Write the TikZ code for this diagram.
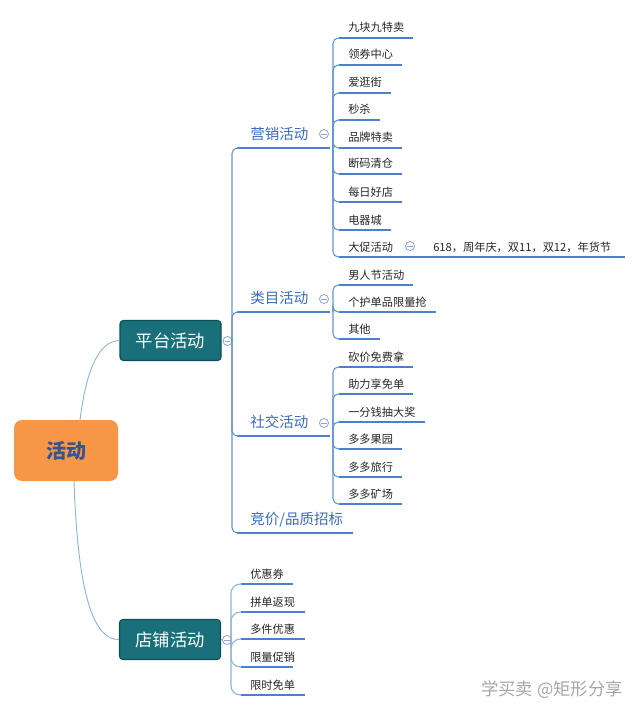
\documentclass[tikz,border=0pt]{standalone}
\usepackage{fontspec}
\setmainfont{Noto Sans CJK SC}
\usetikzlibrary{calc}
\definecolor{linkblue}{RGB}{141,180,226}
\definecolor{ulblue}{RGB}{74,128,205}
\definecolor{lvtwo}{RGB}{58,107,192}
\definecolor{boxteal}{RGB}{25,112,122}
\definecolor{boxedge}{RGB}{14,78,86}
\definecolor{rootfill}{RGB}{247,150,70}
\definecolor{roottext}{RGB}{50,85,150}
\definecolor{circgray}{RGB}{140,165,200}
\tikzset{
  leaf/.style={anchor=base west, inner sep=0pt, text=black!85, font=\fontsize{8.4pt}{10pt}\selectfont},
  lvtext/.style={anchor=base west, inner sep=0pt, text=lvtwo, font=\fontsize{10.9pt}{13pt}\selectfont},
  ul/.style={draw=ulblue, line width=1.5pt},
  ulthin/.style={draw=ulblue, line width=1.1pt},
  link/.style={draw=linkblue, line width=0.7pt},
  brlink/.style={draw=ulblue!85, line width=0.8pt, rounded corners=4pt},
  mainbox/.style={draw=boxedge, line width=0.8pt, fill=boxteal, rounded corners=2.5pt, text=white,
    minimum width=75.75pt, minimum height=30pt, inner sep=0pt, font=\fontsize{13pt}{15pt}\selectfont},
  rootbox/.style={fill=rootfill, rounded corners=6pt, minimum width=78pt, minimum height=45.75pt,
    inner sep=0pt, text=roottext, font=\fontsize{15pt}{18pt}\selectfont\bfseries},
  collapse/.style={circle, draw=circgray, line width=0.6pt, fill=white, minimum size=6.8pt, inner sep=0pt,
    path picture={\draw[circgray, line width=0.6pt] ([xshift=1.5pt]path picture bounding box.west) -- ([xshift=-1.5pt]path picture bounding box.east);}},
}
% name, x0, y(underline), x1, text
\newcommand\leafitem[5]{%
  \coordinate (#1-a) at (#2,#3);
  \coordinate (#1-b) at (#4,#3);
  \node[leaf] (#1) at ($(#2,#3)+(9,-6)$) {#5};
  \draw[ul] (#1-a) -- (#1-b);
}
\newcommand\lvitem[5]{%
  \coordinate (#1-a) at (#2,#3);
  \coordinate (#1-b) at (#4,#3);
  \node[lvtext] (#1) at ($(#2,#3)+(13,-8.5)$) {#5};
  \draw[ulthin] (#1-a) -- (#1-b);
}
\begin{document}
\begin{tikzpicture}[x=0.75pt,y=-0.75pt]
\useasboundingbox (0,0) rectangle (640,709);

% root and main boxes
\node[rootbox] (root) at (66,450.5) {活动};
\node[mainbox] (pt) at (170.5,340.5) {平台活动};
\node[mainbox] (dp) at (170,639.5) {店铺活动};

\coordinate (rtop) at (80,420);
\coordinate (rbot) at (74,481);
\draw[link] (rtop) .. controls (86,372) and (98,341) .. (pt.west);
\draw[link] (rbot) .. controls (78,600) and (95,640) .. (dp.west);

% platform level 2
\node[collapse] (cpt) at (227.5,341) {};
\coordinate (jpt) at (232,341);
\draw[link] (pt.east) -- (cpt);
\draw[brlink] (cpt) -- (jpt);
\lvitem{ying}{237}{148}{330}{营销活动}
\lvitem{leimu}{237}{312}{330}{类目活动}
\lvitem{shejiao}{237}{436}{330}{社交活动}
\lvitem{jingjia}{237}{533}{353}{竞价/品质招标}
\foreach \c in {ying,leimu,shejiao,jingjia} \draw[brlink] (jpt) |- (\c-a);

\node[collapse] (cying) at (324,134) {};
\node[collapse] (cleimu) at (324,299) {};
\node[collapse] (cshejiao) at (324,423) {};

% marketing
\coordinate (jying) at (333,148);
\leafitem{m1}{339}{38}{413}{九块九特卖}
\leafitem{m2}{339}{65}{402}{领券中心}
\leafitem{m3}{339}{93}{391}{爱逛街}
\leafitem{m4}{339}{120}{380}{秒杀}
\leafitem{m5}{339}{148}{402}{品牌特卖}
\leafitem{m6}{339}{174}{402}{断码清仓}
\leafitem{m7}{339}{202}{402}{每日好店}
\leafitem{m8}{339}{230}{391}{电器城}
\leafitem{m9}{339}{257}{402}{大促活动}
\foreach \c in {m1,m2,m3,m4,m5,m6,m7,m8,m9} \draw[brlink] (jying) |- (\c-a);
\node[collapse] (cm9) at (410,246) {};
\leafitem{promo}{424}{257}{625}{618，周年庆，双11，双12，年货节}
\draw[ulblue, line width=0.8pt] (m9-b) -- (promo-a);

% category
\coordinate (jleimu) at (333,312);
\leafitem{l1}{339}{285}{413}{男人节活动}
\leafitem{l2}{339}{312}{436}{个护单品限量抢}
\leafitem{l3}{339}{339}{380}{其他}
\foreach \c in {l1,l2,l3} \draw[brlink] (jleimu) |- (\c-a);

% social
\coordinate (jshejiao) at (333,436);
\leafitem{s1}{339}{367}{413}{砍价免费拿}
\leafitem{s2}{339}{394}{413}{助力享免单}
\leafitem{s3}{339}{422}{425}{一分钱抽大奖}
\leafitem{s4}{339}{449}{402}{多多果园}
\leafitem{s5}{339}{477}{402}{多多旅行}
\leafitem{s6}{339}{504}{402}{多多矿场}
\foreach \c in {s1,s2,s3,s4,s5,s6} \draw[brlink] (jshejiao) |- (\c-a);

% shop
\node[collapse] (cdp) at (227,640) {};
\draw[link] (dp.east) -- (cdp);
\coordinate (jdp) at (231,640);
\leafitem{d1}{241}{584}{293}{优惠券}
\leafitem{d2}{241}{612}{305}{拼单返现}
\leafitem{d3}{241}{639}{305}{多件优惠}
\leafitem{d4}{241}{667}{293}{限量促销}
\leafitem{d5}{241}{695}{305}{限时免单}
\foreach \c in {d1,d2,d3,d4,d5} \draw[link, line width=0.8pt, rounded corners=7pt] (jdp) |- (\c-a);
\draw[link] (cdp) -- (jdp);

% watermark
\node[text=black!35, font=\fontsize{13pt}{15pt}\selectfont, anchor=center] (wm) at (552,690) {学买卖 @矩形分享};
\end{tikzpicture}
\end{document}
